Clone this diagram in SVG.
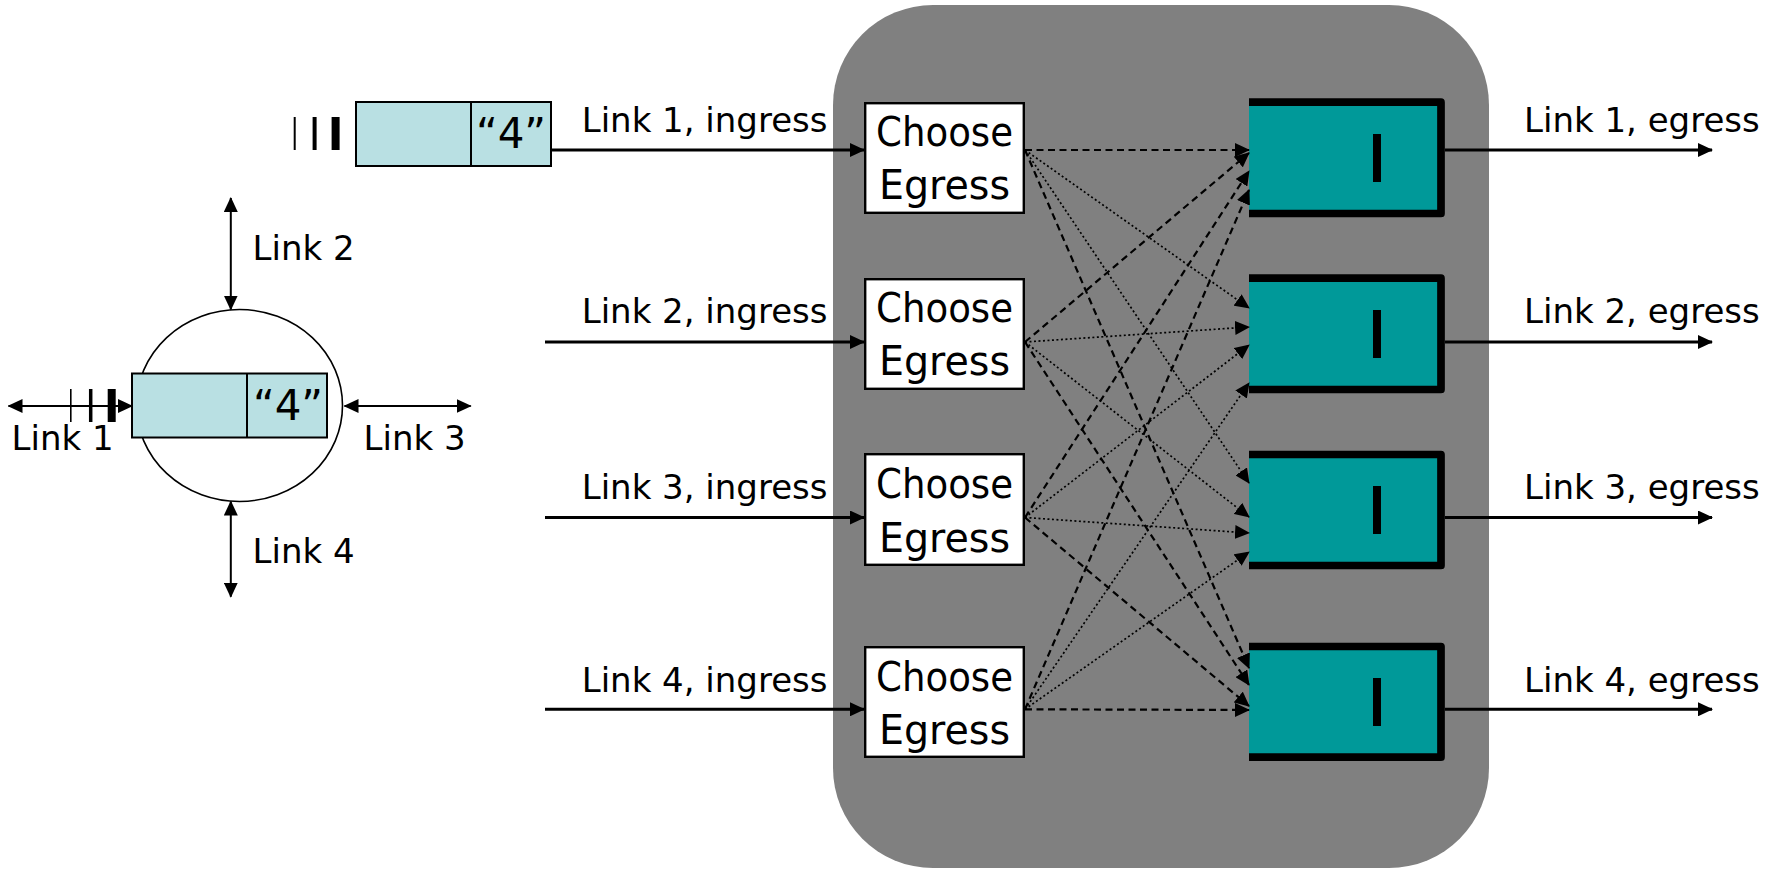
<svg xmlns="http://www.w3.org/2000/svg" width="1767" height="871" viewBox="0 0 1767 871">
  <style>
    .lbl { font-family: "DejaVu Sans", "Liberation Sans", sans-serif; font-size: 34px; fill: #000; }
    .big { font-family: "DejaVu Sans", "Liberation Sans", sans-serif; font-size: 40px; fill: #000; text-anchor: middle; }
    .q4 { font-family: "DejaVu Sans", "Liberation Sans", sans-serif; font-size: 42px; fill: #000; text-anchor: middle; }
    .pkt { fill: #b9e0e3; stroke: #000; stroke-width: 2; }
    .thin { stroke: #000; stroke-width: 2; fill: none; }
    .solid { stroke: #000; stroke-width: 3; fill: none; marker-end: url(#ah); }
    .dbl { stroke: #000; stroke-width: 2; fill: none; marker-start: url(#ah); marker-end: url(#ah); }
    .dash { stroke: #000; stroke-width: 2.2; stroke-dasharray: 7 4.5; fill: none; marker-end: url(#ah); }
    .dot { stroke: #000; stroke-width: 1.7; stroke-dasharray: 2 2.5; fill: none; marker-end: url(#ah); }
    .choose { fill: #fff; stroke: #000; stroke-width: 2.4; }
    .qfill { fill: #009999; }
    .qline { fill: none; stroke: #000; stroke-width: 7.7; stroke-linejoin: round; }
  </style>
  <defs>
    <marker id="ah" viewBox="0 0 15 14" refX="14" refY="7" markerWidth="15" markerHeight="14" markerUnits="userSpaceOnUse" orient="auto-start-reverse">
      <path d="M0,0 L15,7 L0,14 Z" fill="#000"/>
    </marker>
  </defs>

  <!-- left: router diagram -->
  <g id="top-packet">
    <line x1="294.7" y1="117" x2="294.7" y2="150" stroke="#000" stroke-width="2"/>
    <line x1="314.6" y1="117" x2="314.6" y2="150" stroke="#000" stroke-width="4"/>
    <line x1="335.6" y1="117" x2="335.6" y2="150" stroke="#000" stroke-width="8"/>
    <rect class="pkt" x="356" y="102" width="195" height="64"/>
    <line class="thin" x1="471" y1="102" x2="471" y2="166"/>
    <text class="q4" x="511" y="148">“4”</text>
  </g>

  <g id="router">
    <ellipse cx="239.5" cy="405.5" rx="103" ry="96" fill="#fff" stroke="#000" stroke-width="1.6"/>
    <rect class="pkt" x="132" y="373.5" width="195" height="64"/>
    <line class="thin" x1="247" y1="373.5" x2="247" y2="437.5"/>
    <text class="q4" x="288" y="420">“4”</text>
  </g>

  <g id="router-links">
    <line class="dbl" x1="8.5" y1="406" x2="132" y2="406"/>
    <line x1="70.8" y1="389" x2="70.8" y2="422" stroke="#000" stroke-width="1.6"/>
    <line x1="90.7" y1="389" x2="90.7" y2="422" stroke="#000" stroke-width="3.5"/>
    <line x1="111.7" y1="389" x2="111.7" y2="422" stroke="#000" stroke-width="8"/>
    <line class="dbl" x1="344.5" y1="406" x2="470.7" y2="406"/>
    <line class="dbl" x1="230.8" y1="198" x2="230.8" y2="309.5"/>
    <line class="dbl" x1="230.8" y1="501.5" x2="230.8" y2="596.7"/>
    <text class="lbl" x="11.5" y="450">Link 1</text>
    <text class="lbl" x="363.6" y="450">Link 3</text>
    <text class="lbl" x="252.6" y="260">Link 2</text>
    <text class="lbl" x="252.6" y="563">Link 4</text>
  </g>

  <!-- switch body -->
  <rect id="switch" x="833" y="5" width="656" height="863" rx="100" ry="100" fill="#808080"/>

  <!-- ingress connectors and labels -->
  <g id="ingress">
    <line class="solid" x1="551" y1="150" x2="864" y2="150"/>
    <line class="solid" x1="545" y1="342" x2="864" y2="342"/>
    <line class="solid" x1="545" y1="517.5" x2="864" y2="517.5"/>
    <line class="solid" x1="545" y1="709.3" x2="864" y2="709.3"/>
    <text class="lbl" x="581.7" y="132">Link 1, ingress</text>
    <text class="lbl" x="581.7" y="323">Link 2, ingress</text>
    <text class="lbl" x="581.7" y="499">Link 3, ingress</text>
    <text class="lbl" x="581.7" y="692">Link 4, ingress</text>
  </g>

  <!-- Choose Egress nodes -->
  <g id="choose1">
    <rect class="choose" x="865.2" y="103.2" width="158.6" height="109.6"/>
    <text class="big" x="944.5" y="146" textLength="137" lengthAdjust="spacingAndGlyphs">Choose</text>
    <text class="big" x="944.5" y="199" textLength="131" lengthAdjust="spacingAndGlyphs">Egress</text>
  </g>
  <g id="choose2">
    <rect class="choose" x="865.2" y="279.2" width="158.6" height="109.6"/>
    <text class="big" x="944.5" y="322" textLength="137" lengthAdjust="spacingAndGlyphs">Choose</text>
    <text class="big" x="944.5" y="375" textLength="131" lengthAdjust="spacingAndGlyphs">Egress</text>
  </g>
  <g id="choose3">
    <rect class="choose" x="865.2" y="454.2" width="158.6" height="110.6"/>
    <text class="big" x="944.5" y="498" textLength="137" lengthAdjust="spacingAndGlyphs">Choose</text>
    <text class="big" x="944.5" y="551.5" textLength="131" lengthAdjust="spacingAndGlyphs">Egress</text>
  </g>
  <g id="choose4">
    <rect class="choose" x="865.2" y="647.2" width="158.6" height="109.6"/>
    <text class="big" x="944.5" y="691" textLength="137" lengthAdjust="spacingAndGlyphs">Choose</text>
    <text class="big" x="944.5" y="744" textLength="131" lengthAdjust="spacingAndGlyphs">Egress</text>
  </g>

  <!-- output queues -->
  <g id="queue1">
    <rect class="qfill" x="1249" y="102" width="192" height="112"/>
    <path class="qline" d="M1249,102.2 H1441 V213.5 H1249"/>
    <rect x="1373" y="134" width="8" height="48" fill="#000"/>
  </g>
  <g id="queue2">
    <rect class="qfill" x="1249" y="278" width="192" height="112"/>
    <path class="qline" d="M1249,278.2 H1441 V389.5 H1249"/>
    <rect x="1373" y="310" width="8" height="48" fill="#000"/>
  </g>
  <g id="queue3">
    <rect class="qfill" x="1249" y="454" width="192" height="112"/>
    <path class="qline" d="M1249,454.5 H1441 V565.5 H1249"/>
    <rect x="1373" y="486" width="8" height="48" fill="#000"/>
  </g>
  <g id="queue4">
    <rect class="qfill" x="1249" y="646" width="192" height="112"/>
    <path class="qline" d="M1249,646.5 H1441 V757.2 H1249"/>
    <rect x="1373" y="678" width="8" height="48" fill="#000"/>
  </g>

  <!-- fabric connectors -->
  <g id="fabric">
    <line class="dash" x1="1025" y1="150" x2="1249" y2="150"/>
    <line class="dot" x1="1025" y1="150" x2="1249" y2="308"/>
    <line class="dot" x1="1025" y1="150" x2="1249" y2="483"/>
    <line class="dash" x1="1025" y1="150" x2="1249" y2="668"/>

    <line class="dash" x1="1025" y1="342" x2="1249" y2="153"/>
    <line class="dot" x1="1025" y1="342" x2="1249" y2="327"/>
    <line class="dot" x1="1025" y1="342" x2="1249" y2="517"/>
    <line class="dash" x1="1025" y1="342" x2="1249" y2="685"/>

    <line class="dash" x1="1025" y1="517.5" x2="1249" y2="171"/>
    <line class="dot" x1="1025" y1="517.5" x2="1249" y2="345"/>
    <line class="dot" x1="1025" y1="517.5" x2="1249" y2="533"/>
    <line class="dash" x1="1025" y1="517.5" x2="1249" y2="706"/>

    <line class="dash" x1="1025" y1="709.3" x2="1249" y2="190"/>
    <line class="dot" x1="1025" y1="709.3" x2="1249" y2="383"/>
    <line class="dot" x1="1025" y1="709.3" x2="1249" y2="552"/>
    <line class="dash" x1="1025" y1="709.3" x2="1249" y2="710"/>
  </g>

  <!-- egress connectors and labels -->
  <g id="egress">
    <line class="solid" x1="1445" y1="150" x2="1712" y2="150"/>
    <line class="solid" x1="1445" y1="342" x2="1712" y2="342"/>
    <line class="solid" x1="1445" y1="517.5" x2="1712" y2="517.5"/>
    <line class="solid" x1="1445" y1="709.3" x2="1712" y2="709.3"/>
    <text class="lbl" x="1524" y="132">Link 1, egress</text>
    <text class="lbl" x="1524" y="323">Link 2, egress</text>
    <text class="lbl" x="1524" y="499">Link 3, egress</text>
    <text class="lbl" x="1524" y="692">Link 4, egress</text>
  </g>
</svg>
